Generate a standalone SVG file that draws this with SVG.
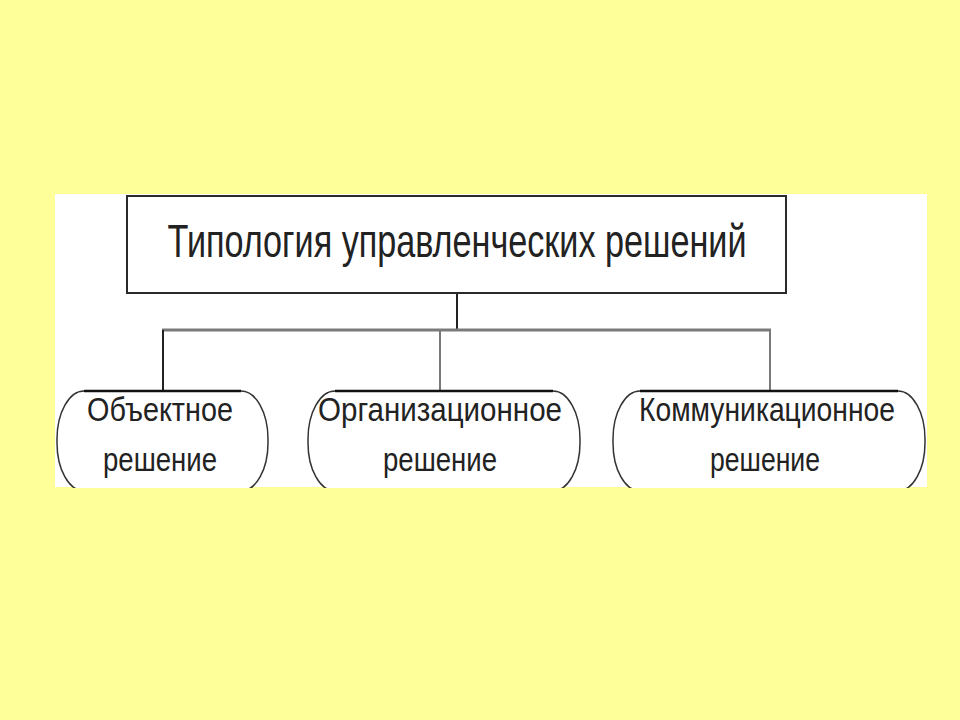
<svg xmlns="http://www.w3.org/2000/svg" width="960" height="720" viewBox="0 0 960 720">
<style>
.t{font-family:"Liberation Sans","Arial",sans-serif;fill:#222;text-anchor:middle}
.box{fill:#fff;stroke:#2a2a2a;stroke-width:2}
.pill{fill:#fff;stroke:#333;stroke-width:1.5}
.top{stroke:#111;stroke-width:2.5}
.con{fill:none;stroke:#7a7a7a;stroke-width:3}
.dk{fill:none;stroke:#222;stroke-width:2}
</style>
<rect x="0" y="0" width="960" height="720" fill="#FFFF99"/>
<rect x="55" y="194" width="872" height="293" fill="#fff"/>
<g id="connectors">
<polyline class="dk" points="457,294 457,330 450,330"/>
<line class="con" x1="162" y1="330" x2="771" y2="330"/>
<line class="dk" x1="163" y1="330" x2="163" y2="391"/>
<line class="con" x1="440" y1="330" x2="440" y2="391" style="stroke-width:2"/>
<line class="con" x1="770" y1="330" x2="770" y2="391" style="stroke-width:2"/>
</g>
<g id="root">
<rect class="box" x="127" y="196" width="659" height="97"/>
<text class="t" x="457" y="257" font-size="46" textLength="579" lengthAdjust="spacingAndGlyphs">Типология управленческих решений</text>
</g>
<g id="n1">
<rect class="pill" x="57" y="391" width="211" height="100" rx="27" ry="48"/>
<line class="top" x1="84" y1="391" x2="241" y2="391"/>
<text class="t" x="160" y="421" font-size="34" textLength="146" lengthAdjust="spacingAndGlyphs">Объектное</text>
<text class="t" x="160" y="471" font-size="34" textLength="114" lengthAdjust="spacingAndGlyphs">решение</text>
</g>
<g id="n2">
<rect class="pill" x="308" y="391" width="272" height="100" rx="27" ry="48"/>
<line class="top" x1="335" y1="391" x2="553" y2="391"/>
<text class="t" x="440" y="421" font-size="34" textLength="244" lengthAdjust="spacingAndGlyphs">Организационное</text>
<text class="t" x="440" y="471" font-size="34" textLength="114" lengthAdjust="spacingAndGlyphs">решение</text>
</g>
<g id="n3">
<rect class="pill" x="613" y="391" width="312" height="100" rx="27" ry="48"/>
<line class="top" x1="640" y1="391" x2="898" y2="391"/>
<text class="t" x="767" y="421" font-size="34" textLength="256" lengthAdjust="spacingAndGlyphs">Коммуникационное</text>
<text class="t" x="765" y="471" font-size="34" textLength="110" lengthAdjust="spacingAndGlyphs">решение</text>
</g>
<rect x="0" y="488" width="960" height="232" fill="#FFFF99"/>
</svg>
